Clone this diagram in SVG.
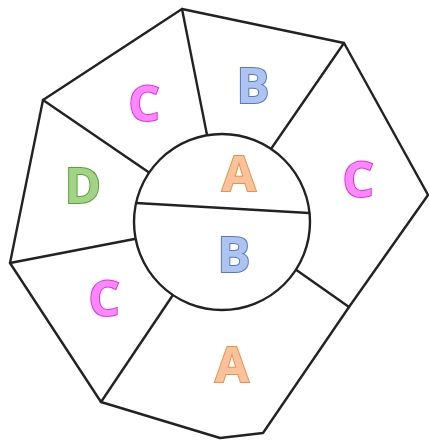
<svg xmlns="http://www.w3.org/2000/svg" width="429" height="441" viewBox="0 0 429 441">
<style>
.ln{fill:none;stroke:#222;stroke-width:2.4;stroke-linejoin:round;stroke-linecap:round}
.hub{fill:#fff;stroke:#222;stroke-width:2.4}
.lbl{font-family:"Open Sans","Liberation Sans",sans-serif;font-weight:bold;font-size:49px;text-anchor:middle;stroke-width:2;paint-order:stroke}
.a{fill:#f9c29a;stroke:#ee9148}
.b{fill:#aec4ee;stroke:#5577cc}
.c{fill:#ff88ff;stroke:#df2fdf}
.d{fill:#a3d486;stroke:#5a9f38}
</style>
<rect width="429" height="441" fill="#fff"/>
<g id="connectors">
<path class="ln" d="M182,9 L344,43 L428,195 L349,307 L263,433 L220,438 L101,402 L10,263 L43,100 Z"/>
<line class="ln" x1="182" y1="9" x2="210" y2="150"/>
<line class="ln" x1="344" y1="43" x2="262" y2="162"/>
<line class="ln" x1="349" y1="307" x2="285" y2="262"/>
<line class="ln" x1="101" y1="402" x2="183" y2="280"/>
<line class="ln" x1="10" y1="263" x2="150" y2="236"/>
<line class="ln" x1="43" y1="100" x2="160" y2="180"/>
<circle class="hub" cx="222" cy="222" r="88"/>
<line class="ln" x1="136" y1="203" x2="309" y2="213"/>
</g>
<g id="region-c1"><text class="lbl c" x="144" y="121">C</text></g>
<g id="region-b1"><text class="lbl b" x="253" y="103">B</text></g>
<g id="region-c2"><text class="lbl c" x="358" y="197">C</text></g>
<g id="region-a1"><text class="lbl a" x="232" y="382">A</text></g>
<g id="region-c3"><text class="lbl c" x="104" y="316">C</text></g>
<g id="region-d"><text class="lbl d" x="83" y="203">D</text></g>
<g id="center-a"><text class="lbl a" x="239" y="191">A</text></g>
<g id="center-b"><text class="lbl b" x="234" y="272">B</text></g>
</svg>
